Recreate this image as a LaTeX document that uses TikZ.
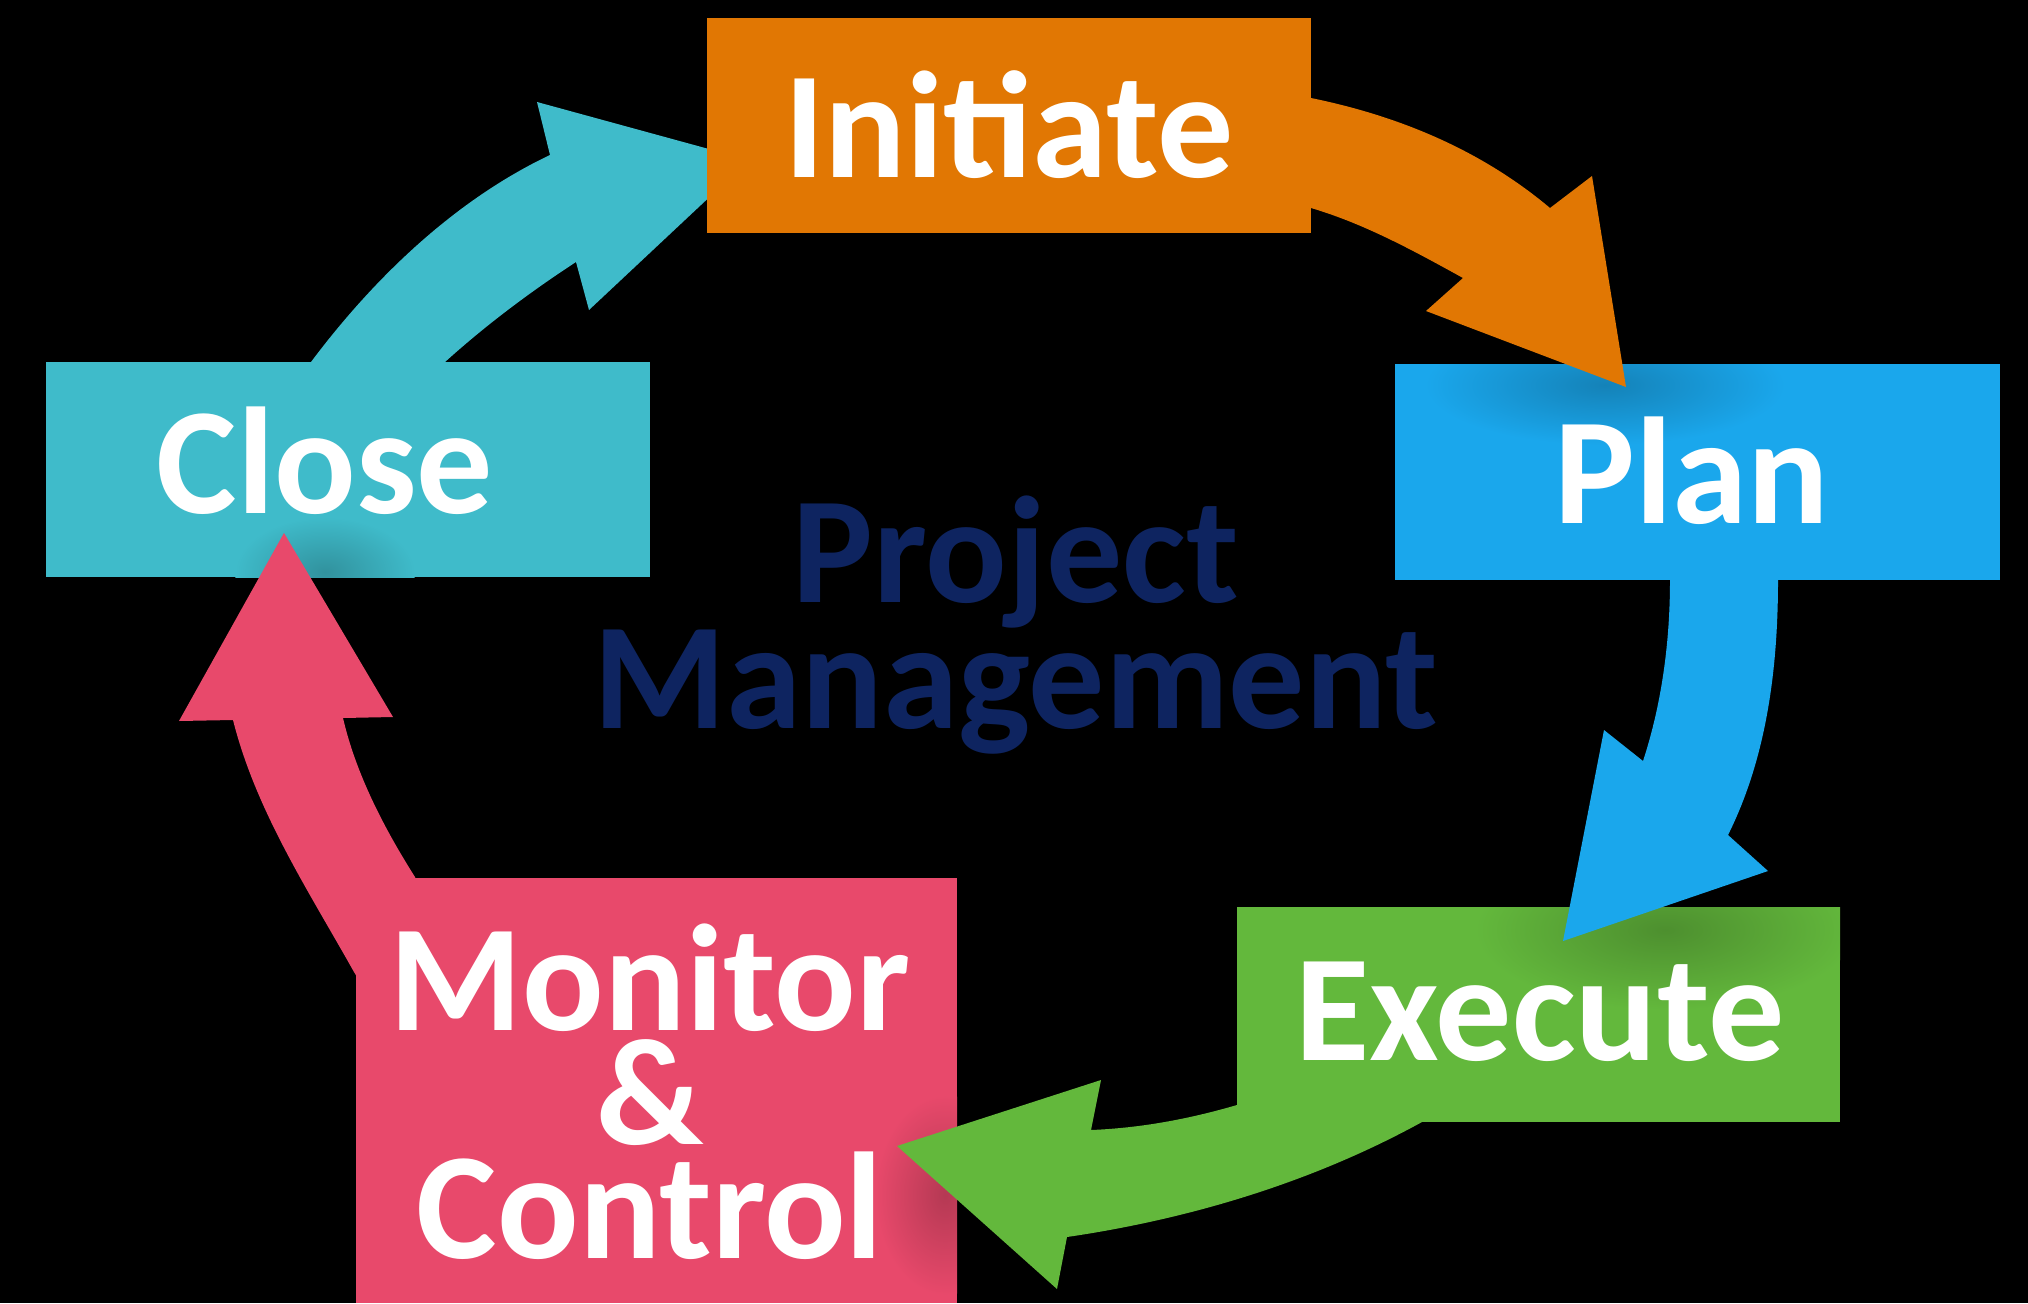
\documentclass[tikz,border=0pt]{standalone}
\usepackage{fontspec}
\setmainfont{Carlito}
\definecolor{cInit}{HTML}{E17703}
\definecolor{cPlan}{HTML}{1AA7EC}
\definecolor{cClose}{HTML}{3FBBCA}
\definecolor{cExec}{HTML}{63B83C}
\definecolor{cMon}{HTML}{E8496B}
\definecolor{cNavy}{HTML}{0E2460}
\begin{document}
\begin{tikzpicture}[x=1pt,y=-1pt,
  box/.style={inner sep=0pt, outer sep=0pt, anchor=north west, draw=none},
  lbl/.style={text=white, font=\bfseries\fontsize{152}{114}\selectfont, anchor=base, inner sep=0pt, align=center},
  ctr/.style={text=cNavy, font=\bfseries\fontsize{152}{115}\selectfont, anchor=base, inner sep=0pt, align=center},
  shadowspot/.style={inner color=#1!78!black, outer color=#1}]
\useasboundingbox (0,0) rectangle (2028,1303);
\fill[black] (0,0) rectangle (2028,1303);

% boxes (all but Initiate)
\node[box, fill=cClose, minimum width=604pt, minimum height=215pt] (close) at (46,362) {};
\node[box, fill=cPlan,  minimum width=605pt, minimum height=216pt] (plan)  at (1395,364) {};
\node[box, fill=cExec,  minimum width=603pt, minimum height=215pt] (exec)  at (1237,907) {};
\node[box, fill=cMon,   minimum width=601pt, minimum height=425pt] (mon)   at (356,878) {};

% soft shadows under arrow tips
\begin{scope}
  \clip (plan.north west) rectangle (plan.south east);
  \shade[shadowspot=cPlan] (1605,385) ellipse [x radius=180, y radius=60];
\end{scope}
\begin{scope}
  \clip (exec.north west) rectangle (exec.south east);
  \shade[shadowspot=cExec] (1665,930) ellipse [x radius=190, y radius=80];
\end{scope}
\begin{scope}
  \clip (mon.north west) rectangle (mon.south east);
  \shade[shadowspot=cMon] (945,1195) ellipse [x radius=70, y radius=100];
\end{scope}
\begin{scope}
  \clip (close.north west) rectangle (close.south east);
  \shade[shadowspot=cClose] (325,572) ellipse [x radius=90, y radius=55];
\end{scope}

% arrows
\fill[cClose] (311,370) -- (311,362) .. controls (374,278) and (455,200) .. (550,155)
  -- (537,102) -- (749,160) -- (589,310) -- (576,262)
  .. controls (530,292) and (486,325) .. (445,362) -- (445,370) -- cycle;
\fill[cInit] (1300,98) -- (1311,98) .. controls (1399,116) and (1481,150) .. (1550,208)
  -- (1592,176) -- (1626,387) -- (1426,311) -- (1463,278)
  .. controls (1414,251) and (1365,224) .. (1311,208) -- (1300,208) -- cycle;
\fill[cPlan] (1670,570) -- (1670,580) .. controls (1670,641) and (1662,703) .. (1643,761)
  -- (1604,730) -- (1563,941) -- (1768,871) -- (1728,835)
  .. controls (1767,757) and (1778,667) .. (1778,580) -- (1778,570) -- cycle;
\fill[cExec] (1250,1100) -- (1237,1105) .. controls (1189,1119) and (1141,1128) .. (1091,1130)
  -- (1101,1080) -- (897,1146) -- (1057,1289) -- (1067,1237)
  .. controls (1190,1219) and (1313,1182) .. (1422,1122) -- (1430,1110) -- cycle;
\fill[cMon] (362,985) -- (354,972) .. controls (308,890) and (256,811) .. (233,720)
  -- (179,721) -- (284,533) -- (393,717) -- (343,718)
  .. controls (356,774) and (384,828) .. (415,877) -- (420,890) -- cycle;

% Initiate box on top
\node[box, fill=cInit, minimum width=604pt, minimum height=215pt] (init) at (707,18) {};

% labels
\node[lbl] (tInit)  at (1009,177)  {Initiate};
\node[lbl] (tPlan)  at (1692,523)  {Plan};
\node[lbl] (tClose) at (325,513)   {Close};
\node[lbl] (tExec)  at (1540,1060) {Execute};
\node[lbl] (tMon)   at (650,1258)  {Monitor\\\&\\Control};

\node[ctr] (tPM) at (1016,728) {Project\\Management};
\end{tikzpicture}
\end{document}
